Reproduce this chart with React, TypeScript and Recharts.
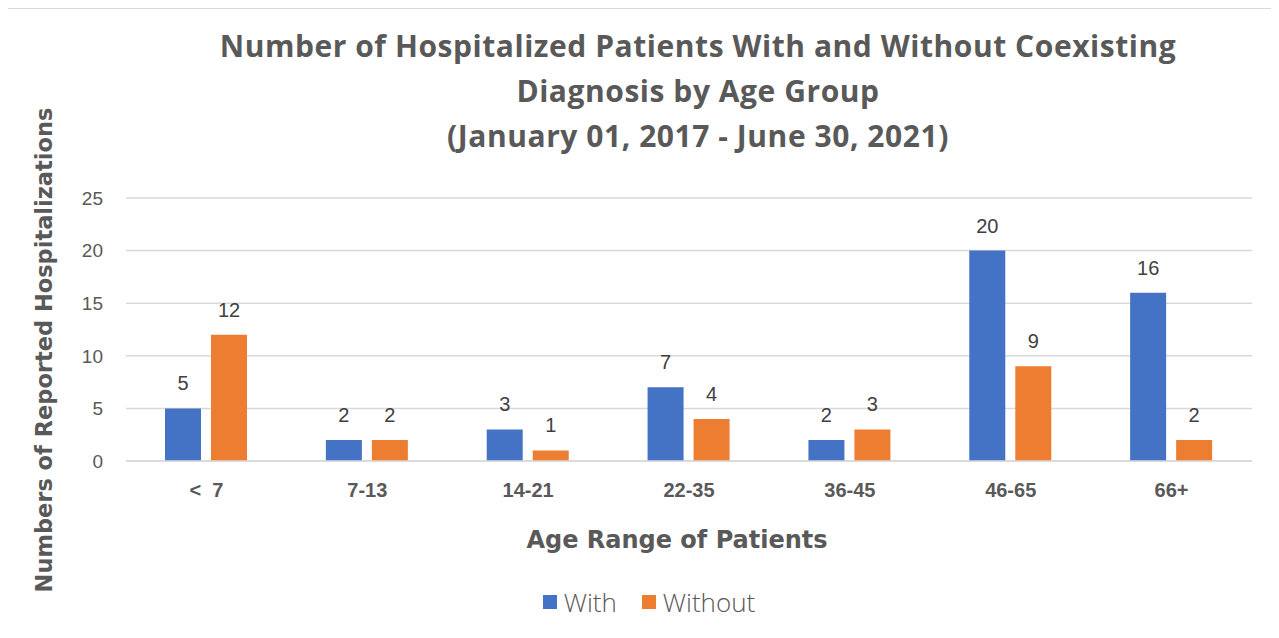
import { BarChart, Bar, XAxis, YAxis, CartesianGrid, LabelList, Legend } from 'recharts'

const AGE_GROUPS = ['<\u00a0\u00a07', '7-13', '14-21', '22-35', '36-45', '46-65', '66+']
const WITH_DX = [5, 2, 3, 7, 2, 20, 16]
const WITHOUT_DX = [12, 2, 1, 4, 3, 9, 2]
const Y_TICKS = [0, 5, 10, 15, 20, 25]

const COLORS = {
  blue: '#4472C4',
  orange: '#ED7D31',
  grid: '#d9d9d9',
  text: '#595959',
  label: '#404040',
}

const data = AGE_GROUPS.map((age, i) => ({ age, With: WITH_DX[i], Without: WITHOUT_DX[i] }))

const LegendContent = ({ payload }: any) => (
  <div style={{ display: 'flex', justifyContent: 'center', alignItems: 'center', gap: 25 }}>
    {(payload || []).map((entry: any) => (
      <div key={entry.value} style={{ display: 'flex', alignItems: 'center', gap: 7 }}>
        <span style={{ width: 14, height: 14, background: entry.color, display: 'inline-block' }} />
        <span style={{ fontFamily: 'Open Sans', fontWeight: 300, fontSize: 26, lineHeight: '30px', color: COLORS.text }}>
          {entry.value}
        </span>
      </div>
    ))}
  </div>
)

export default function App() {
  return (
    <div
      style={{
        position: 'relative',
        marginLeft: -3,
        width: 1285,
        height: 640,
        borderTop: `1px solid ${COLORS.grid}`,
        borderLeft: `2px solid ${COLORS.grid}`,
        fontFamily: 'Liberation Sans, Arial, sans-serif',
      }}
    >
      <div
        style={{
          position: 'absolute',
          left: 191,
          top: 14,
          width: 1000,
          textAlign: 'center',
          fontFamily: 'Open Sans',
          fontWeight: 700,
          fontSize: 30,
          lineHeight: '45px',
          letterSpacing: 0.55,
          color: COLORS.text,
        }}
      >
        Number of Hospitalized Patients With and Without Coexisting
        <br />
        Diagnosis by Age Group
        <br />
        (January 01, 2017 - June 30, 2021)
      </div>
      <div
        style={{
          position: 'absolute',
          left: 37,
          top: 341,
          transform: 'translate(-50%, -50%) rotate(-90deg)',
          whiteSpace: 'nowrap',
          fontFamily: 'DejaVu Sans',
          fontWeight: 700,
          fontSize: 22.5,
          color: COLORS.text,
        }}
      >
        Numbers of Reported Hospitalizations
      </div>
      <div
        style={{
          position: 'absolute',
          left: 670,
          top: 531,
          transform: 'translate(-50%, -50%)',
          whiteSpace: 'nowrap',
          fontFamily: 'DejaVu Sans',
          fontWeight: 700,
          fontSize: 24,
          color: COLORS.text,
        }}
      >
        Age Range of Patients
      </div>
      <BarChart
        width={1278}
        height={629}
        data={data}
        margin={{ top: 189, right: 33, bottom: 147, left: 0 }}
        barGap={10}
      >
        <CartesianGrid stroke={COLORS.grid} vertical={false} strokeWidth={1.5} />
        <XAxis
          dataKey="age"
          height={30}
          axisLine={{ stroke: COLORS.grid, strokeWidth: 1.5 }}
          tickLine={false}
          tickSize={0}
          tickMargin={22}
          tick={{ fill: COLORS.text, fontSize: 20, fontWeight: 700 }}
          interval={0}
        />
        <YAxis
          width={119}
          domain={[0, 25]}
          ticks={Y_TICKS}
          axisLine={false}
          tickLine={false}
          tickSize={0}
          tickMargin={23}
          tick={{ fill: COLORS.text, fontSize: 19 }}
        />
        <Legend
          verticalAlign="middle"
          align="center"
          content={<LegendContent />}
          wrapperStyle={{ position: 'absolute', left: 342, width: 600, top: 578 }}
        />
        <Bar dataKey="With" fill={COLORS.blue} barSize={36} isAnimationActive={false}>
          <LabelList dataKey="With" position="top" offset={18} fill={COLORS.label} fontSize={20} />
        </Bar>
        <Bar dataKey="Without" fill={COLORS.orange} barSize={36} isAnimationActive={false}>
          <LabelList dataKey="Without" position="top" offset={18} fill={COLORS.label} fontSize={20} />
        </Bar>
      </BarChart>
    </div>
  )
}
